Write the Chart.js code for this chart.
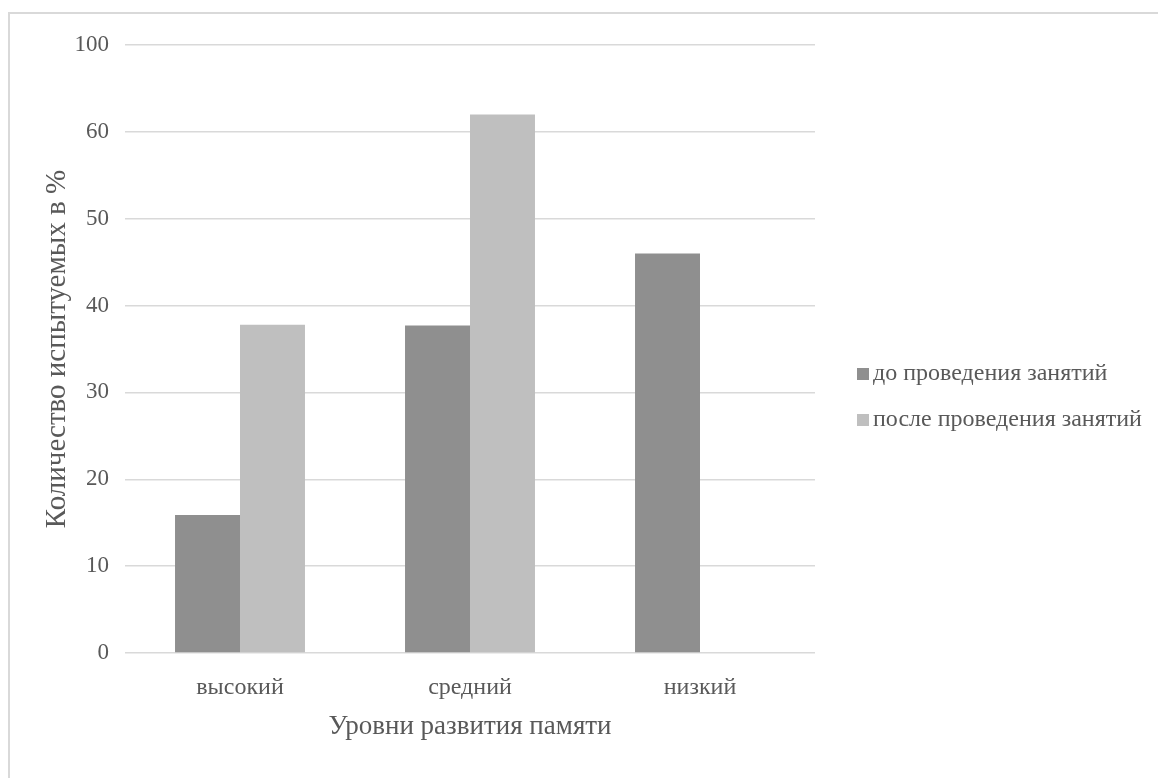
<!DOCTYPE html>
<html>
<head>
<meta charset="utf-8">
<script src="https://cdn.jsdelivr.net/npm/chart.js@4.4.1/dist/chart.umd.min.js"></script>
<style>
  html, body { margin: 0; padding: 0; background: #fff; overflow: hidden; }
  #wrap { position: relative; width: 1158px; height: 778px; overflow: hidden; }
  #frame { position: absolute; left: 8px; top: 12px; width: 1300px; height: 900px;
           border-left: 2px solid #d9d9d9; border-top: 2px solid #d9d9d9;
           box-sizing: border-box; pointer-events: none; }
  canvas { position: absolute; left: 0; top: 0; }
</style>
</head>
<body>
<div id="wrap">
  <canvas id="myChart" width="1158" height="778"></canvas>
  <div id="frame"></div>
</div>
<script>
const labels = ['высокий', 'средний', 'низкий'];
const beforeValues = [15.9, 37.7, 46];
const afterValues = [37.8, 62, 0];
const seriesNames = ['до проведения занятий', 'после проведения занятий'];
const tickLabels = ['0', '10', '20', '30', '40', '50', '60', '100'];

const textColor = '#595959';
const serif = "'Liberation Serif', 'Times New Roman', serif";

// legend drawn by hand so it sits where the original one does
const sideLegend = {
  id: 'sideLegend',
  afterDraw(chart) {
    const ctx = chart.ctx;
    const x = chart.chartArea.right + 42;
    let y = 374;
    ctx.save();
    ctx.font = '24px ' + serif;
    ctx.textBaseline = 'middle';
    chart.data.datasets.forEach(ds => {
      ctx.fillStyle = ds.backgroundColor;
      ctx.fillRect(x, y - 6, 12, 12);
      ctx.fillStyle = textColor;
      ctx.fillText(ds.label, x + 16, y);
      y += 46;
    });
    ctx.restore();
  }
};

const data = {
  labels: labels,
  datasets: [{
    label: seriesNames[0],
    data: beforeValues,
    backgroundColor: '#8f8f8f'
  }, {
    label: seriesNames[1],
    data: afterValues,
    backgroundColor: '#bfbfbf'
  }]
};

const config = {
  type: 'bar',
  data: data,
  options: {
    responsive: false,
    animation: false,
    categoryPercentage: 0.565,
    barPercentage: 1,
    layout: {
      padding: { top: 45, right: 343, left: 0, bottom: 0 }
    },
    plugins: {
      legend: { display: false },
      tooltip: { enabled: false }
    },
    scales: {
      x: {
        grid: { display: false, drawTicks: false },
        border: { display: false },
        ticks: {
          color: textColor,
          padding: 20,
          font: { family: serif, size: 24 }
        },
        title: {
          display: true,
          text: 'Уровни развития памяти',
          color: textColor,
          font: { family: serif, size: 27 },
          padding: { top: 10, bottom: 35 }
        },
        afterFit(scale) { scale.height = 125; }
      },
      y: {
        min: 0,
        max: 70,
        grid: { color: '#d9d9d9', lineWidth: 1.5, drawTicks: false },
        border: { display: false },
        ticks: {
          stepSize: 10,
          color: textColor,
          padding: 16,
          font: { family: serif, size: 23 },
          callback: (v, i) => tickLabels[i]
        },
        title: {
          display: true,
          text: 'Количество испытуемых в %',
          color: textColor,
          font: { family: serif, size: 29 },
          padding: { top: 40, bottom: 0 }
        },
        afterFit(scale) { scale.width = 125; }
      }
    }
  },
  plugins: [sideLegend]
};

const myChart = new Chart(document.getElementById('myChart'), config);
</script>
</body>
</html>
